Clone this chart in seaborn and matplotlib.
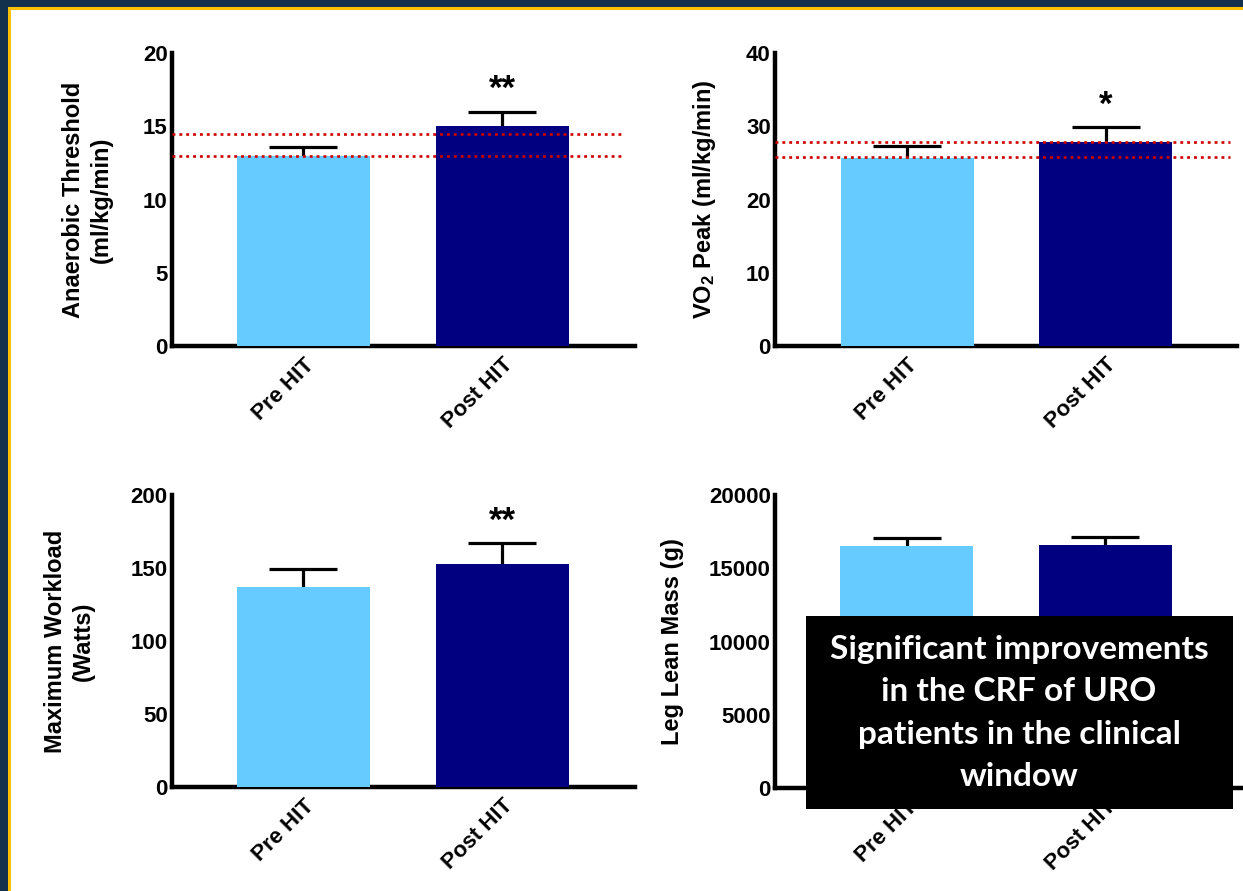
import matplotlib
matplotlib.use("Agg")
import matplotlib.pyplot as plt
from matplotlib.patches import Rectangle
import seaborn as sns
import pandas as pd

# Group labels
groups = ["Pre HIT", "Post HIT"]

# Anaerobic threshold (ml/kg/min)
at_mean = [13.0, 15.0]
at_sem = [0.6, 1.0]
at_refs = [13.0, 14.5]

# VO2 peak (ml/kg/min)
vo2_mean = [25.7, 27.8]
vo2_sem = [1.6, 2.1]
vo2_refs = [25.8, 27.9]

# Maximum workload (Watts)
wl_mean = [137.0, 153.0]
wl_sem = [12.0, 14.0]

# Leg lean mass (g)
llm_mean = [16500, 16600]
llm_sem = [550, 550]

# Significance marks per panel (Pre, Post)
at_sig = ["", "**"]
vo2_sig = ["", "*"]
wl_sig = ["", "**"]
llm_sig = ["", ""]

colors = ["#66CCFF", "#000080"]
navy_frame = "#13304C"
gold = "#FFC000"

sns.set_style("white")
plt.rcParams["font.family"] = ["Liberation Sans", "DejaVu Sans"]
plt.rcParams["text.color"] = "black"
plt.rcParams["axes.labelcolor"] = "black"
plt.rcParams["xtick.color"] = "black"
plt.rcParams["ytick.color"] = "black"
plt.rcParams["mathtext.fontset"] = "custom"
plt.rcParams["mathtext.rm"] = "Liberation Sans:bold"
plt.rcParams["mathtext.bf"] = "Liberation Sans:bold"
plt.rcParams["mathtext.it"] = "Liberation Sans:bold"

W, H = 1243, 891
fig = plt.figure(figsize=(W / 100, H / 100), dpi=100)
fig.patch.set_facecolor("white")


def px_axes(left, right, top, bottom):
    return fig.add_axes([left / W, 1 - bottom / H, (right - left) / W, (bottom - top) / H])


def panel(ax, means, sems, sig, ylim, yticks, ylabel, label_xy, xlim, refs=None, ref_xmax=0.975):
    df = pd.DataFrame({"group": groups, "value": means})
    sns.barplot(data=df, x="group", y="value", hue="group", palette=colors,
                saturation=1, width=0.67, errorbar=None, legend=False,
                linewidth=0, ax=ax)
    for p in ax.patches:
        p.set_zorder(3)
    eb = ax.errorbar(x=[0, 1], y=means, yerr=[[0, 0], sems], fmt="none", ecolor="black",
                     elinewidth=2.3, capsize=24.5, capthick=2.3, zorder=2)
    # keep only the upper caps
    for cap in eb[1]:
        if list(cap.get_ydata()) == list(means):
            cap.set_visible(False)
    if refs is not None:
        for r in refs:
            ax.axhline(r, xmin=0, xmax=ref_xmax, color="#D00000", lw=1.9,
                       linestyle=(0, (1.1, 1.5)), zorder=4)
    for i, s in enumerate(sig):
        if s:
            ax.annotate(s, xy=(i, means[i] + sems[i]), xytext=(0, 9),
                        textcoords="offset points", ha="center", va="baseline",
                        fontsize=25, fontweight="bold", color="black")
    ax.set_xlim(*xlim)
    ax.set_ylim(*ylim)
    ax.set_yticks(yticks)
    ax.set_xlabel("")
    ax.set_ylabel(ylabel, fontsize=17, fontweight="bold", linespacing=1.3)
    ax.yaxis.label.set_verticalalignment("center")
    ax.yaxis.set_label_coords(*label_xy)
    for side in ["top", "right"]:
        ax.spines[side].set_visible(False)
    for side in ["left", "bottom"]:
        ax.spines[side].set_linewidth(3.2)
        ax.spines[side].set_color("black")
        ax.spines[side].set_capstyle("projecting")
    ax.tick_params(axis="y", direction="in", length=9, width=3.2, pad=3,
                   labelsize=16, color="black")
    ax.tick_params(axis="x", length=0, pad=6, labelsize=16)
    for t in ax.get_yticklabels():
        t.set_fontweight("bold")
    ax.set_xticks([0, 1])
    ax.set_xticklabels(groups, rotation=45, ha="right", rotation_mode="anchor",
                       fontweight="bold", fontsize=16)
    ax.patch.set_alpha(0)


ax1 = px_axes(172, 635, 53, 346)
panel(ax1, at_mean, at_sem, at_sig, (0, 20), [0, 5, 10, 15, 20],
      "Anaerobic Threshold\n(ml/kg/min)", (-0.183, 0.5), (-0.66, 1.666), refs=at_refs, ref_xmax=0.974)

ax2 = px_axes(775, 1237, 53, 346)
panel(ax2, vo2_mean, vo2_sem, vo2_sig, (0, 40), [0, 10, 20, 30, 40],
      "VO$_{2}$ Peak (ml/kg/min)", (-0.152, 0.5), (-0.665, 1.66), refs=vo2_refs, ref_xmax=0.985)

ax3 = px_axes(172, 635, 495, 787)
panel(ax3, wl_mean, wl_sem, wl_sig, (0, 200), [0, 50, 100, 150, 200],
      "Maximum Workload\n(Watts)", (-0.222, 0.5), (-0.66, 1.666))

ax4 = px_axes(775, 1250, 495, 788)
panel(ax4, llm_mean, llm_sem, llm_sig, (0, 20000), [0, 5000, 10000, 15000, 20000],
      "Leg Lean Mass (g)", (-0.215, 0.5), (-0.665, 1.73))

# Summary callout box
fig.add_artist(Rectangle((806 / W, 1 - 809 / H), (1233 - 806) / W, (809 - 616) / H,
                         transform=fig.transFigure, facecolor="black", edgecolor="none", zorder=10))
fig.text(1019 / W, 1 - 713 / H,
         "Significant improvements\nin the CRF of URO\npatients in the clinical\nwindow",
         ha="center", va="center", color="white", fontsize=24, fontweight="bold",
         family=["Lato", "DejaVu Sans"], linespacing=1.56, zorder=11)

# Slide frame: dark band with gold inner rule on top and left
fig.add_artist(Rectangle((0, 1 - 7 / H), 1, 7 / H, transform=fig.transFigure,
                         facecolor=navy_frame, edgecolor="none", zorder=20))
fig.add_artist(Rectangle((0, 0), 8 / W, 1, transform=fig.transFigure,
                         facecolor=navy_frame, edgecolor="none", zorder=20))
fig.add_artist(Rectangle((8 / W, 1 - 10 / H), 1, 3 / H, transform=fig.transFigure,
                         facecolor=gold, edgecolor="none", zorder=19))
fig.add_artist(Rectangle((8 / W, 0), 3 / W, 1 - 7 / H, transform=fig.transFigure,
                         facecolor=gold, edgecolor="none", zorder=19))

fig.savefig("out.png", dpi=100, facecolor="white")
